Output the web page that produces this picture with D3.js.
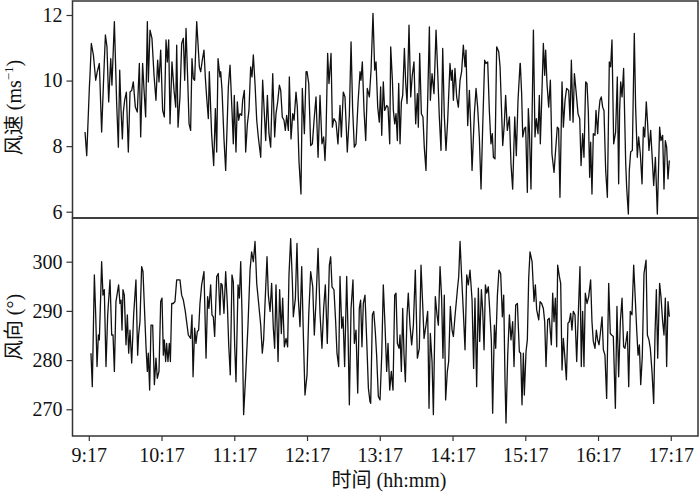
<!DOCTYPE html>
<html><head><meta charset="utf-8">
<script src="https://cdn.jsdelivr.net/npm/d3@7"></script>
<style>body{margin:0;background:#fff}svg{display:block}</style>
</head><body><svg id="c" width="700" height="494"></svg>
<script>
// minutes since start of record (record starts ~3.7 min before 9:17)
const speedMinutes = [
0.6,2.0,4.2,4.7,5.8,7.5,9.4,10.7,12.4,14.3,16.0,17.4,18.7,20.1,21.8,22.8,24.8,26.7,28.1,29.2,
30.3,31.4,32.2,33.3,34.7,36.3,37.7,39.1,40.4,42.1,43.7,45.4,46.5,48.1,49.2,50.6,52.0,52.8,54.2,55.8,
57.5,59.1,60.5,61.6,63.0,64.6,66.0,67.4,68.5,69.6,70.7,72.3,74.0,75.4,76.2,77.3,78.9,80.3,81.7,82.8,
83.9,85.3,86.4,87.7,88.8,89.9,91.0,92.7,94.9,96.0,97.3,98.7,99.8,100.9,102.3,103.1,105.0,106.7,108.1,109.2,
110.3,111.9,
112.5,113.6,115.2,116.6,118.8,120.2,121.8,122.9,123.7,125.1,126.2,127.3,128.4,129.8,130.6,132.0,133.1,134.5,135.8,137.2,
138.3,139.4,140.8,142.2,143.5,145.5,147.1,148.5,149.6,151.0,152.3,153.7,155.4,157.0,158.1,159.5,160.9,162.0,163.3,164.7,
165.8,166.9,168.3,169.1,170.5,171.9,173.0,174.6,175.7,177.1,178.7,179.8,181.5,182.9,183.7,185.1,186.7,188.1,189.5,191.1,
192.8,194.4,196.0,197.4,198.5,199.3,200.7,201.8,203.5,204.6,205.9,207.6,209.2,210.9,212.0,213.6,215.0,216.9,218.6,220.0,
221.3,222.7,224.1,225.7,227.4,228.2,229.3,230.7,232.1,233.4,235.1,
236.5,238.1,239.5,240.6,242.0,243.3,244.4,245.3,246.6,247.7,249.4,250.5,251.9,252.7,254.1,254.9,256.0,257.1,258.2,259.3,
260.4,261.5,262.6,264.0,265.1,266.2,267.8,269.2,270.5,271.9,273.3,274.7,275.5,276.6,278.0,279.3,280.4,281.8,283.2,284.6,
285.4,286.8,288.4,290.1,291.4,292.8,294.2,295.6,296.9,298.3,299.7,301.6,302.7,303.5,304.4,305.7,307.1,308.5,309.9,311.2,
312.6,314.0,314.8,316.2,317.6,318.9,319.8,321.7,323.1,324.4,325.8,327.2,328.6,330.2,331.3,332.7,334.1,335.4,336.5,337.4,
338.7,340.1,341.8,342.9,345.1,346.4,347.5,348.9,350.6,351.9,353.3,355.0,356.3,357.7,359.4,
359.6,360.7,361.6,362.9,364.0,365.4,366.2,367.0,368.4,370.4,371.7,372.8,374.2,375.3,376.1,377.2,378.6,379.7,380.5,381.6,
383.0,384.4,385.7,387.4,388.8,390.1,391.2,392.3,394.0,395.1,396.5,397.8,399.5,400.6,401.7,403.1,404.2,405.5,407.2,408.6,
409.7,411.0,412.1,413.5,414.6,415.7,416.8,417.6,418.7,419.8,421.2,422.0,423.4,424.2,425.3,426.4,427.5,428.6,430.0,431.4,
433.0,434.1,435.2,436.6,438.2,439.6,440.7,441.5,442.4,443.5,444.8,446.5,447.3,448.7,449.5,450.6,452.0,453.6,454.7,456.1,
457.2,458.6,460.0,461.1,462.2,463.5,464.6,465.7,467.1,468.5,469.6,471.0,472.6,474.5,475.6,477.0,478.1,479.2,480.3,481.4,
482.5];
const speedValues = [
8.43,7.71,9.81,10.16,11.13,10.78,10.01,10.27,10.52,8.43,10.11,11.39,11.03,9.35,10.67,9.86,11.80,9.30,7.97,10.32,
9.09,8.22,9.04,9.40,9.65,7.82,9.65,9.70,9.96,9.19,9.04,10.52,8.28,10.52,9.76,8.89,11.80,9.96,11.54,11.29,
10.16,9.40,10.62,9.96,10.93,9.09,8.89,11.24,10.57,11.24,8.68,10.57,9.70,9.19,11.08,8.58,9.50,11.13,11.29,10.01,
11.59,10.01,8.68,8.48,10.67,10.06,10.01,11.80,10.42,10.27,10.62,10.93,10.11,9.50,8.84,10.27,8.38,7.41,9.14,7.82,
10.67,10.11,
10.27,9.70,8.22,7.26,9.81,10.47,9.09,8.07,9.55,7.82,9.35,8.79,8.99,8.94,9.40,9.70,7.82,8.68,9.09,10.42,
10.11,10.78,9.91,8.79,8.28,7.66,10.01,8.99,8.17,9.55,8.38,7.97,10.21,8.28,8.99,9.35,9.86,9.70,8.89,8.79,
8.48,8.94,8.48,10.11,8.22,8.99,8.79,9.65,9.19,7.51,6.54,9.76,8.38,10.27,10.27,9.91,8.02,8.07,8.79,9.50,
7.66,9.55,8.07,8.28,7.56,8.28,10.83,9.91,10.83,8.58,8.84,8.73,8.07,9.24,8.28,9.65,9.50,7.82,8.94,11.18,
9.14,7.97,8.07,9.30,10.27,10.01,10.57,9.09,8.17,9.76,9.50,
10.32,12.05,10.32,10.57,9.19,8.73,9.81,8.33,9.96,9.09,9.24,9.19,8.07,11.03,10.01,9.09,8.68,8.99,8.17,9.91,
8.07,9.35,9.55,10.98,9.91,9.30,11.69,9.50,10.16,10.57,8.68,9.60,8.58,10.83,8.99,8.89,7.97,7.26,9.40,11.64,
9.40,10.21,9.60,11.54,10.32,8.89,7.87,10.98,8.94,7.87,8.79,10.52,10.01,10.32,9.40,10.37,9.50,9.19,10.01,10.27,
11.08,10.42,10.93,8.63,9.70,8.38,7.26,8.99,9.76,9.19,8.28,6.69,8.63,10.62,10.52,10.57,9.04,8.07,8.38,7.66,
7.61,11.03,10.88,10.42,8.02,8.68,9.55,8.48,8.89,7.46,6.69,8.89,7.71,9.40,10.52,
10.52,9.60,8.28,8.53,8.58,6.59,9.14,8.58,6.69,11.54,8.28,8.84,8.38,9.55,8.07,9.35,11.13,10.16,10.93,9.91,
9.19,10.01,7.76,7.20,7.92,8.58,8.53,6.44,9.96,8.58,9.40,9.76,9.70,8.79,10.62,8.73,10.21,9.70,8.99,8.84,
7.41,8.38,7.66,9.96,9.91,9.04,7.05,8.12,6.54,8.38,8.33,9.09,8.38,8.99,9.40,9.50,9.19,9.09,7.26,6.44,
10.57,10.42,11.24,8.07,8.43,10.11,6.85,9.09,9.96,9.50,10.37,7.51,6.75,5.93,7.26,7.82,7.87,11.44,9.19,7.66,
8.28,7.76,6.85,8.58,8.28,9.35,8.68,7.87,8.48,7.56,6.80,7.66,5.93,8.58,8.17,8.33,6.69,8.17,7.97,7.00,
7.56];
const directionMinutes = [
5.5,6.6,8.3,9.4,10.5,11.6,12.4,13.5,14.3,15.4,16.5,17.9,19.3,21.2,22.6,23.7,24.8,26.1,28.3,29.4,
30.3,31.1,31.9,33.0,34.4,35.5,36.6,37.7,39.1,40.7,42.6,44.0,44.8,45.9,47.3,48.4,49.5,50.9,52.0,52.8,
53.9,55.0,56.4,57.8,59.1,60.2,61.6,63.0,64.1,65.2,66.0,67.1,67.9,69.0,70.1,71.0,72.1,73.4,74.8,76.2,
78.9,80.3,81.7,83.3,85.8,87.7,88.8,89.7,91.0,92.1,93.2,94.3,95.4,96.8,98.7,100.4,101.7,102.8,104.2,105.3,
106.4,107.5,109.2,110.5,111.9,
112.7,113.7,115.2,116.6,118.0,119.1,120.4,121.8,122.9,124.0,125.1,126.8,127.9,129.0,130.1,131.4,133.1,135.0,136.7,138.0,
139.4,140.8,142.2,143.8,145.5,146.8,147.9,149.0,150.7,151.8,153.2,154.5,155.9,157.0,158.1,159.8,161.1,162.5,163.6,165.0,
166.4,167.7,168.8,170.2,171.6,172.4,174.1,175.4,176.5,177.9,179.3,180.7,182.0,183.7,185.1,186.7,188.4,189.7,191.1,192.8,
194.4,196.0,197.4,198.8,200.4,202.1,203.2,204.3,205.9,207.3,208.4,209.8,210.9,212.3,213.4,214.7,216.4,217.5,218.6,220.0,
221.6,222.7,224.1,225.5,226.8,227.9,229.0,230.1,231.5,232.9,234.3,235.6,
236.2,237.6,238.7,240.0,241.1,242.5,243.9,245.3,246.6,248.0,249.4,250.5,251.9,253.2,254.6,256.0,257.1,258.2,259.6,260.4,
261.5,262.6,263.7,264.8,266.1,267.2,268.6,270.0,271.4,273.0,274.7,276.3,277.7,279.1,280.2,281.8,283.2,284.3,285.4,286.8,
287.9,289.5,290.9,292.0,293.4,294.7,295.8,296.9,298.0,299.4,300.5,301.9,303.3,304.4,305.7,307.7,308.8,309.9,311.2,312.6,
314.0,315.4,316.7,318.1,319.8,321.1,322.2,323.6,325.0,326.1,327.5,328.6,329.7,330.8,331.9,333.2,334.3,335.7,336.8,338.2,
339.3,340.7,342.0,343.4,344.8,345.9,347.0,347.8,349.2,350.6,351.9,353.3,354.4,355.8,357.2,358.8,
359.9,361.0,362.1,362.9,364.3,365.4,366.5,367.6,369.3,370.9,372.0,373.1,374.8,375.9,377.2,378.6,379.7,380.8,382.2,383.5,
385.2,386.3,387.4,388.5,389.6,390.4,391.8,392.9,394.0,395.1,396.2,397.6,398.9,400.0,401.1,402.2,403.3,404.7,406.1,407.5,
408.8,409.9,411.0,412.1,413.2,414.6,416.0,417.6,418.7,419.8,421.2,422.3,423.4,424.5,425.6,427.0,428.1,429.4,430.8,432.5,
433.8,434.9,436.3,438.0,439.3,440.7,442.1,443.5,444.8,445.9,446.8,447.9,449.0,450.3,451.7,453.1,454.2,455.6,456.7,457.8,
458.9,460.2,461.6,463.3,464.4,465.7,466.8,468.2,469.6,470.7,471.8,472.9,474.5,475.6,477.0,478.1,479.2,480.3,481.4,482.5];
const directionValues = [
281.4,274.6,297.3,289.2,278.7,285.1,284.1,292.9,300.0,293.2,294.3,278.7,289.2,296.3,285.1,285.1,277.7,291.9,295.3,291.5,
292.2,286.1,294.3,293.2,283.1,289.2,281.4,286.1,279.4,289.2,296.3,281.0,285.1,287.8,299.0,298.0,291.2,282.7,277.7,281.4,
273.9,287.1,287.1,275.0,280.4,276.3,277.7,291.9,292.6,281.0,284.1,279.7,283.4,279.7,283.4,279.7,291.5,291.5,291.9,296.3,
296.3,293.2,292.2,289.9,285.1,284.4,289.2,276.6,286.5,283.4,285.8,286.1,291.5,295.3,298.0,280.4,292.9,290.5,295.3,289.2,
288.8,284.8,297.0,297.6,289.2,
295.6,295.3,289.5,298.0,291.2,283.1,277.0,297.3,295.9,283.1,275.6,295.3,292.6,300.0,289.2,268.9,277.0,287.1,298.3,302.0,
300.0,304.1,295.6,291.5,287.1,281.4,284.1,291.2,301.0,293.2,289.9,295.6,286.5,282.4,295.3,279.7,294.3,285.4,292.6,282.7,
284.4,282.7,297.3,304.7,295.9,288.8,292.6,303.7,292.6,286.8,299.0,284.8,272.9,277.0,289.2,298.0,294.9,285.1,291.9,302.7,
289.5,282.4,290.5,295.3,283.4,299.3,301.0,294.9,294.3,287.8,281.4,278.7,297.0,286.5,288.8,278.7,297.0,285.8,270.9,290.5,
296.3,283.4,286.1,273.3,290.5,292.2,282.7,291.5,293.2,284.1,274.3,271.6,
271.2,289.2,289.9,285.8,281.0,272.6,271.9,281.0,295.3,287.1,277.7,283.4,273.9,277.7,273.9,293.2,293.6,283.4,282.4,285.1,
277.7,290.5,281.0,275.6,288.8,293.6,287.1,283.1,287.1,298.3,280.4,282.4,299.3,291.2,284.4,287.1,289.9,270.2,285.4,279.7,
268.9,292.9,289.2,287.1,299.0,292.6,280.4,293.2,271.9,277.7,279.7,290.9,286.1,284.8,288.8,294.3,297.0,304.1,297.0,289.9,
282.1,297.3,295.3,298.3,292.2,278.3,292.6,274.6,294.6,283.8,294.3,289.9,282.1,295.3,293.6,294.9,290.5,284.1,269.2,287.1,
282.4,293.2,298.3,297.6,288.8,293.2,275.6,267.2,281.0,289.2,284.1,287.8,278.7,291.2,291.5,281.7,
281.4,270.9,281.4,272.9,281.7,284.1,296.6,302.0,300.0,291.9,295.3,290.2,288.2,291.9,291.5,290.5,287.8,278.7,288.2,288.5,
283.1,293.6,287.8,292.6,282.7,299.3,297.0,295.6,278.0,284.4,281.0,276.0,287.5,287.8,289.5,286.1,289.9,289.2,279.7,289.9,
299.0,278.7,289.9,278.7,293.6,291.5,292.9,296.3,287.8,283.8,282.4,286.1,284.1,283.1,285.4,288.8,282.1,281.0,272.2,295.6,
285.4,285.1,284.8,270.2,290.9,276.6,287.8,292.6,282.7,282.4,283.8,285.8,274.6,289.9,289.2,299.3,293.6,286.1,281.0,283.1,
275.0,280.7,297.6,300.3,285.1,284.1,282.4,277.7,271.2,285.4,294.3,280.4,295.6,292.9,287.8,285.1,292.6,278.7,291.9,288.8];
const timeTickMinutes = [3.7,63.7,123.7,183.7,243.7,303.7,363.7,423.7,483.7];
const timeTickLabels = ["9:17","10:17","11:17","12:17","13:17","14:17","15:17","16:17","17:17"];
const speedTicks = [6,8,10,12];
const directionTicks = [270,280,290,300];
const speedTitle = "风速 (ms";
const directionTitle = "风向 (°)";
const timeTitle = "时间 (hh:mm)";

const FONT = '"Liberation Serif","Times New Roman","Noto Sans CJK SC",serif';
const svg = d3.select("#c");
const L = 72.5, R = 698, T = 1, M = 218, B = 436;

const x = d3.scaleLinear().domain([0, 480]).range([84.3, 666.3]);
const ySpeed = d3.scaleLinear().domain([5.808, 12.427]).range([M, T]);
const yDir = d3.scaleLinear().domain([264.57, 308.88]).range([B, M]);

const speedData = speedMinutes.map((t, i) => [t, speedValues[i]]);
const dirData = directionMinutes.map((t, i) => [t, directionValues[i]]);

svg.append("path").datum(speedData)
  .attr("fill", "none").attr("stroke", "#111").attr("stroke-width", 1.3)
  .attr("stroke-linejoin", "round")
  .attr("d", d3.line().x(d => x(d[0])).y(d => ySpeed(d[1])));
svg.append("path").datum(dirData)
  .attr("fill", "none").attr("stroke", "#111").attr("stroke-width", 1.3)
  .attr("stroke-linejoin", "round")
  .attr("d", d3.line().x(d => x(d[0])).y(d => yDir(d[1])));

function styleAxis(g) {
  g.select(".domain").remove();
  g.selectAll(".tick line").attr("stroke", "#333").attr("stroke-width", 1.2);
  g.selectAll(".tick text").attr("fill", "#111").style("font-family", FONT).style("font-size", "20px");
}
svg.append("g").attr("transform", `translate(${L},0)`)
  .call(d3.axisLeft(ySpeed).tickValues(speedTicks).tickSize(6).tickPadding(4).tickFormat(d3.format("d")))
  .call(styleAxis);
svg.append("g").attr("transform", `translate(${L},0)`)
  .call(d3.axisLeft(yDir).tickValues(directionTicks).tickSize(6).tickPadding(4).tickFormat(d3.format("d")))
  .call(styleAxis);
svg.append("g").attr("transform", `translate(0,${B})`)
  .call(d3.axisBottom(x).tickValues(timeTickMinutes).tickSize(5).tickPadding(7)
    .tickFormat((d, i) => timeTickLabels[i]))
  .call(styleAxis);

// frames
[[T, M], [M, B]].forEach(([a, b]) => {
  svg.append("rect").attr("x", L).attr("y", a).attr("width", R - L).attr("height", b - a)
    .attr("fill", "none").attr("stroke", "#333").attr("stroke-width", 1.5);
});

// titles
const st = svg.append("text").attr("transform", `translate(21,${(T + M) / 2 - 2}) rotate(-90)`)
  .attr("text-anchor", "middle").style("font-family", FONT).style("font-size", "20px").attr("fill", "#111");
st.append("tspan").text(speedTitle);
st.append("tspan").text("−1").attr("dy", -8).style("font-size", "13px");
st.append("tspan").text(")").attr("dy", 8);

svg.append("text").attr("transform", `translate(21,${(M + B) / 2}) rotate(-90)`)
  .attr("text-anchor", "middle").style("font-family", FONT).style("font-size", "20px").attr("fill", "#111")
  .text(directionTitle);

svg.append("text").attr("x", 389).attr("y", 487).attr("text-anchor", "middle")
  .style("font-family", FONT).style("font-size", "20px").attr("fill", "#111").text(timeTitle);
</script></body></html>
